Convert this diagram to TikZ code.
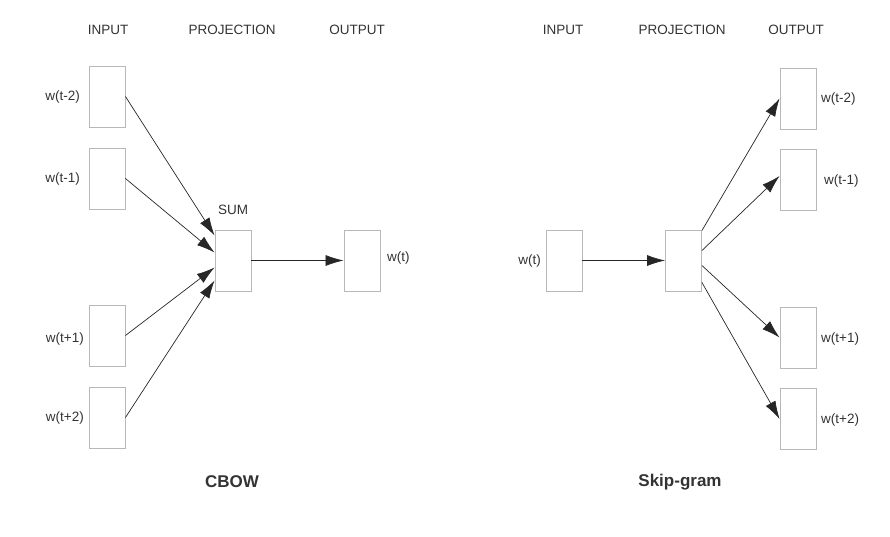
\documentclass[tikz,border=0pt]{standalone}
\usepackage{fontspec}
\setmainfont{Liberation Sans}
\usetikzlibrary{arrows.meta}
\definecolor{boxgray}{gray}{0.72}
\definecolor{txtgray}{gray}{0.2}
\tikzstyle{wbox} = [draw=boxgray, fill=white, line width=0.9pt, rectangle, minimum width=36pt, minimum height=61pt, inner sep=0pt]
\tikzstyle{lbl} = [text=txtgray, font=\fontsize{13.5}{16}\selectfont, inner sep=0pt]
\tikzstyle{ttl} = [text=txtgray, font=\fontsize{17}{20}\selectfont\bfseries, inner sep=0pt]
\tikzstyle{link} = [draw=black!85, line width=0.7pt, -{Latex[length=18pt,width=11pt]}]

\begin{document}
\begin{tikzpicture}[x=1pt,y=-1pt]
\useasboundingbox (0,0) rectangle (890,536);
% CBOW
\node[lbl] (hin1) at (108,30) {INPUT};
\node[lbl] (hpr1) at (232,30) {PROJECTION};
\node[lbl] (hout1) at (357,30) {OUTPUT};
\node[wbox] (in1) at (107,96.5) {};
\node[wbox] (in2) at (107,178.5) {};
\node[wbox] (in3) at (107,335.5) {};
\node[wbox] (in4) at (107,417.5) {};
\node[wbox] (sum) at (233,260.5) {};
\node[wbox] (out) at (362,260.5) {};
\node[lbl, anchor=east] at (80,97) {w(t-2)};
\node[lbl, anchor=east] at (80,179) {w(t-1)};
\node[lbl, anchor=east] at (84,339) {w(t+1)};
\node[lbl, anchor=east] at (84,418) {w(t+2)};
\node[lbl] (sumlbl) at (233,210) {SUM};
\node[lbl, anchor=west] at (387,258) {w(t)};
\draw[link] (in1.east) -- ([yshift=25pt]sum.west);
\draw[link] (in2.east) -- ([yshift=8pt]sum.west);
\draw[link] (in3.east) -- ([yshift=-7pt]sum.west);
\draw[link] (in4.east) -- ([yshift=-20pt]sum.west);
\draw[link] (sum.east) -- (out.west);
\node[ttl] (cbow) at (232,482) {CBOW};
% Skip-gram
\node[lbl] (hin2) at (563,30) {INPUT};
\node[lbl] (hpr2) at (682,30) {PROJECTION};
\node[lbl] (hout2) at (796,30) {OUTPUT};
\node[wbox] (win) at (564,260.5) {};
\node[wbox] (proj) at (683.5,260.5) {};
\node[wbox] (o1) at (798,98.5) {};
\node[wbox] (o2) at (798,180) {};
\node[wbox] (o3) at (798,337.5) {};
\node[wbox] (o4) at (798,419) {};
\node[lbl, anchor=east] at (541,261) {w(t)};
\node[lbl, anchor=west] at (821,99) {w(t-2)};
\node[lbl, anchor=west] at (824,181) {w(t-1)};
\node[lbl, anchor=west] at (821,339) {w(t+1)};
\node[lbl, anchor=west] at (821,420) {w(t+2)};
\draw[link] (win.east) -- (proj.west);
\draw[link] ([yshift=30pt]proj.east) -- (o1.west);
\draw[link] ([yshift=10pt]proj.east) -- ([yshift=4pt]o2.west);
\draw[link] ([yshift=-5pt]proj.east) -- (o3.west);
\draw[link] ([yshift=-22pt]proj.east) -- (o4.west);
\node[ttl] (skip) at (680,482) {Skip-gram};
\end{tikzpicture}
\end{document}
